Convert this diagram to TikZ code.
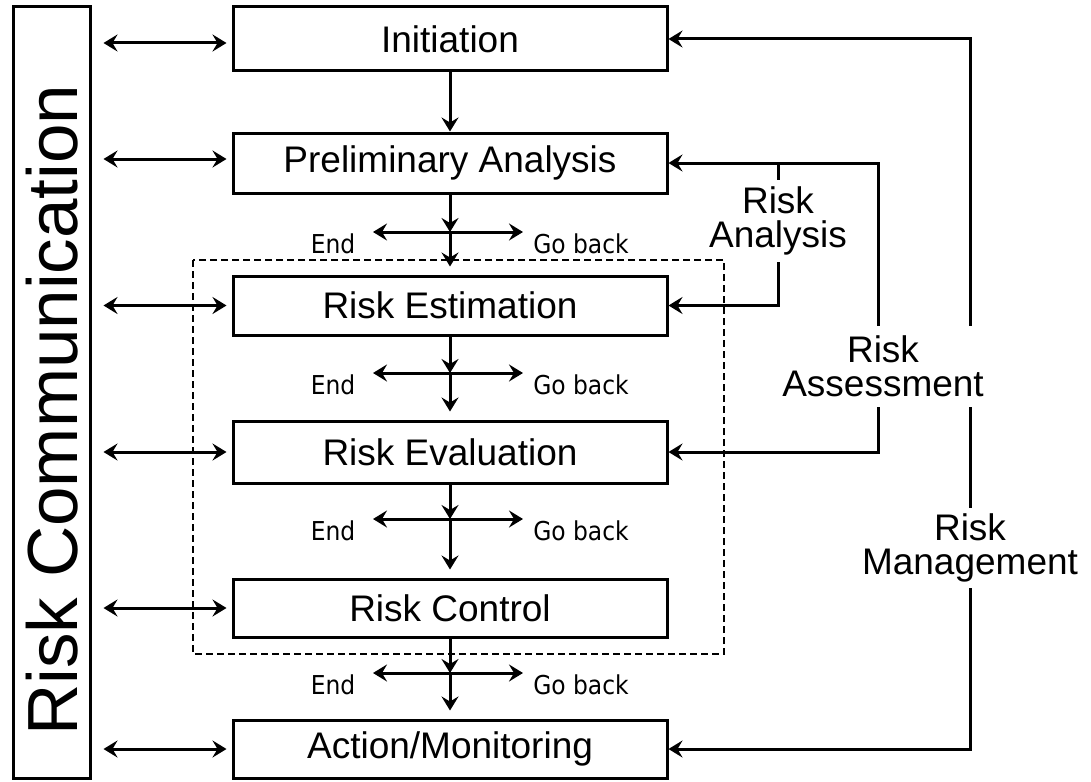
\documentclass[tikz,border=0pt]{standalone}
\usepackage{fontspec}
\setmainfont{Liberation Sans}
\newfontfamily\smallfont{DejaVu Sans Condensed}
\usetikzlibrary{arrows.meta}
\begin{document}
\begin{tikzpicture}[x=1pt,y=-1pt,
  ln/.style={line width=3pt},
  box/.style={draw, ln, minimum width=434pt, minimum height=60pt, inner sep=0pt, font=\fontsize{37}{40}\selectfont},
  lbl/.style={inner sep=0pt, align=center, font=\fontsize{37}{34}\selectfont},
  small/.style={inner sep=0pt, font=\smallfont\fontsize{26}{28}\selectfont},
  arr/.style={ln, -{Stealth[length=14pt,width=17pt,inset=5pt]}},
  darr/.style={ln, {Stealth[length=14pt,width=17pt,inset=5pt]}-{Stealth[length=14pt,width=17pt,inset=5pt]}},
  dbox/.style={line width=2.2pt, dash pattern=on 7pt off 4pt},
]
\useasboundingbox (0,0) rectangle (1091,781);

% communication column
\node[draw, ln, minimum width=77pt, minimum height=771pt, inner sep=0pt] (comm) at (51.5,392.5) {};
\node[rotate=90, inner sep=0pt, font=\fontsize{71}{72}\selectfont] (commtxt) at (52,410) {Risk Communication};

% main boxes
\node[box, minimum height=64pt] (init) at (450,39) {Initiation};
\node[box] (pre) at (450,163) {Preliminary Analysis};
\node[box, minimum height=59pt] (est) at (450,305.5) {Risk Estimation};
\node[box, minimum height=62pt] (eval) at (450,452) {Risk Evaluation};
\node[box, minimum height=58pt] (ctrl) at (450,608) {Risk Control};
\node[box, minimum height=58pt] (act) at (450,749) {Action/Monitoring};

% dashed assessment frame
\draw[dbox] (193,260) rectangle (724,654);

% communication arrows
\draw[darr] ([xshift=12pt,yshift=-4pt]comm.east |- init.west) -- ([xshift=-5pt,yshift=-4pt]init.west);
\draw[darr] ([xshift=12pt,yshift=4pt]comm.east |- pre.west) -- ([xshift=-5pt,yshift=4pt]pre.west);
\foreach \b in {est,eval,ctrl,act}
  \draw[darr] ([xshift=12pt]comm.east |- \b.west) -- ([xshift=-5pt]\b.west);

% main flow
\draw[arr] (init.south) -- (pre.north);

\coordinate (c1) at (450,232);
\coordinate (c2) at (450,373);
\coordinate (c3) at (450,519);
\coordinate (c4) at (450,673);

\draw[arr] (pre.south) -- (c1);
\draw[arr] (c1) -- ([yshift=8pt]est.north);
\draw[arr] (est.south) -- (c2);
\draw[arr] (c2) -- ([yshift=8pt]eval.north);
\draw[arr] (eval.south) -- (c3);
\draw[arr] (c3) -- ([yshift=8pt]ctrl.north);
\draw[arr] (ctrl.south) -- (c4);
\draw[arr] (c4) -- ([yshift=8pt]act.north);

\foreach \c/\i in {c1/1,c2/2,c3/3,c4/4}{
  \draw[darr] ([xshift=-77pt]\c) -- ([xshift=73pt]\c);
  \node[small] (end\i) at ([xshift=-117pt,yshift=-12pt]\c) {End};
  \node[small] (gb\i) at ([xshift=131pt,yshift=-12pt]\c) {Go back};
}

% right-hand labels
\node[lbl, minimum height=80pt] (mg) at (970,548) {Risk\\Management};
\node[lbl, minimum height=81pt] (as) at (883,366.5) {Risk\\Assessment};
\node[lbl, minimum height=82pt] (an) at (778,221) {Risk\\Analysis};

% risk management loop
\draw[arr] (mg.north |- as.north) |- (init.east);
\draw[ln] (mg.north |- as.south) -- (mg.north);
\draw[arr] (mg.south) |- (act.east);

% risk assessment loop
\draw[arr] ([xshift=-5pt]as.north) |- (pre.east);
\draw[arr] ([xshift=-5pt]as.south) |- (eval.east);

% risk analysis loop
\draw[ln] (an.north) -- (an.north |- pre.east);
\draw[arr] (an.south) |- (est.east);
\end{tikzpicture}
\end{document}
